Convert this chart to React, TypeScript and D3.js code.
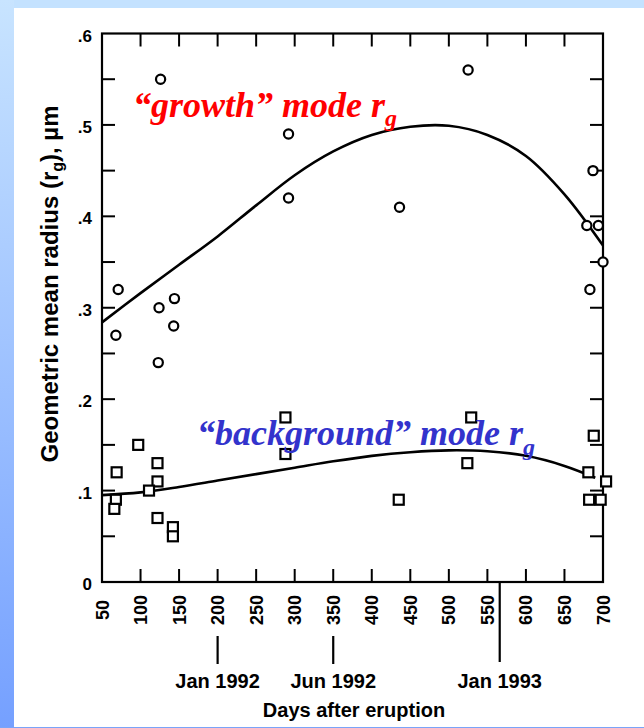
import React from "react";
import * as d3 from "d3";

// Observation days and geometric mean radii (µm)
const growthDays = [71, 68, 124, 144, 143, 123, 126, 292, 292, 436, 525, 687, 679, 694, 700, 683];
const growthRadius = [0.32, 0.27, 0.3, 0.31, 0.28, 0.24, 0.55, 0.49, 0.42, 0.41, 0.56, 0.45, 0.39, 0.39, 0.35, 0.32];

const backgroundDays = [69, 68, 66, 97, 122, 122, 111, 122, 142, 142, 288, 288, 435, 529, 524, 688, 681, 704, 682, 697];
const backgroundRadius = [0.12, 0.09, 0.08, 0.15, 0.13, 0.11, 0.1, 0.07, 0.06, 0.05, 0.18, 0.14, 0.09, 0.18, 0.13, 0.16, 0.12, 0.11, 0.09, 0.09];

// Fitted trend curves
const growthFitDays = [50, 100, 150, 200, 250, 300, 350, 400, 450, 500, 550, 600, 650, 700];
const growthFit = [0.284, 0.316, 0.347, 0.378, 0.412, 0.445, 0.471, 0.489, 0.498, 0.499, 0.489, 0.466, 0.424, 0.368];

const backgroundFitDays = [50, 100, 150, 200, 250, 300, 350, 400, 450, 500, 550, 600, 650, 690];
const backgroundFit = [0.095, 0.098, 0.104, 0.111, 0.118, 0.125, 0.132, 0.138, 0.142, 0.144, 0.143, 0.138, 0.127, 0.114];

// Axis ticks
const xTicks = [50, 100, 150, 200, 250, 300, 350, 400, 450, 500, 550, 600, 650, 700];
const yTicks = [0, 0.1, 0.2, 0.3, 0.4, 0.5, 0.6];
const yTickLabels = ["0", ".1", ".2", ".3", ".4", ".5", ".6"];
const yMinorTicks = [0.05, 0.15, 0.25, 0.35, 0.45, 0.55];

// Calendar markers below the day axis
const dateDays = [200, 350, 566];
const dateLabels = ["Jan 1992", "Jun 1992", "Jan 1993"];

const W = 644;
const H = 728;
const sans = "'Liberation Sans', Arial, Helvetica, sans-serif";
const serif = "'Liberation Serif', 'Times New Roman', serif";

export default function App() {
  const x = d3.scaleLinear().domain([50, 700]).range([102, 603]);
  const y = d3.scaleLinear().domain([0, 0.6]).range([582, 33.5]);
  const [x0, x1] = x.range();
  const [yb, yt] = y.range();
  const tickLen = 13;

  const line = d3
    .line<[number, number]>()
    .x((d) => x(d[0]))
    .y((d) => y(d[1]))
    .curve(d3.curveCatmullRom.alpha(0.5));

  const growthPath = line(growthFitDays.map((d, i) => [d, growthFit[i]]) as [number, number][]) || "";
  const backgroundPath = line(backgroundFitDays.map((d, i) => [d, backgroundFit[i]]) as [number, number][]) || "";

  const allY = [...yTicks, ...yMinorTicks];
  const stroke = "#000";

  return (
    <svg
      width={W}
      height={H}
      style={{ position: "fixed", left: 0, top: 0, background: "#fff" }}
    >
      <defs>
        <linearGradient id="sideBand" x1="0" y1="0" x2="0" y2="1">
          <stop offset="0%" stopColor="#c8e4ff" />
          <stop offset="100%" stopColor="#75a0ff" />
        </linearGradient>
      </defs>
      <rect x={0} y={0} width={W} height={H} fill="#fff" />
      <rect x={0} y={0} width={W} height={8} fill="#c4e2ff" />
      <rect x={0} y={0} width={14} height={H} fill="url(#sideBand)" />
      <rect x={0} y={727} width={W} height={1} fill="#7aa4f8" />

      {/* frame */}
      <rect x={x0} y={yt} width={x1 - x0} height={yb - yt} fill="none" stroke={stroke} strokeWidth={2.2} />

      {/* ticks on top and bottom */}
      {xTicks.slice(1, -1).map((t) => (
        <g key={"xt" + t}>
          <line x1={x(t)} x2={x(t)} y1={yb} y2={yb - tickLen} stroke={stroke} strokeWidth={2} />
          <line x1={x(t)} x2={x(t)} y1={yt} y2={yt + tickLen} stroke={stroke} strokeWidth={2} />
        </g>
      ))}
      {/* ticks on left and right */}
      {allY
        .filter((v) => v > 0 && v < 0.6)
        .map((v) => (
          <g key={"yt" + v}>
            <line x1={x0} x2={x0 + tickLen} y1={y(v)} y2={y(v)} stroke={stroke} strokeWidth={2} />
            <line x1={x1} x2={x1 - tickLen} y1={y(v)} y2={y(v)} stroke={stroke} strokeWidth={2} />
          </g>
        ))}

      {/* y tick labels */}
      {yTicks.map((v, i) => (
        <text
          key={"yl" + v}
          x={92}
          y={y(v) + 8}
          textAnchor="end"
          fontFamily={sans}
          fontWeight="bold"
          fontSize={17}
        >
          {yTickLabels[i]}
        </text>
      ))}

      {/* x tick labels, rotated */}
      {xTicks.map((t) => (
        <text
          key={"xl" + t}
          transform={`translate(${x(t) + 6.5},610) rotate(-90)`}
          textAnchor="middle"
          fontFamily={sans}
          fontWeight="bold"
          fontSize={18}
        >
          {t}
        </text>
      ))}

      {/* calendar markers */}
      {dateDays.map((d, i) => (
        <g key={"dm" + d}>
          <line
            x1={x(d)}
            x2={x(d)}
            y1={i === 2 ? yb : 636}
            y2={i === 2 ? 662 : 664}
            stroke={stroke}
            strokeWidth={2.2}
          />
          <text
            x={x(d)}
            y={688}
            textAnchor="middle"
            fontFamily={sans}
            fontWeight="bold"
            fontSize={20}
          >
            {dateLabels[i]}
          </text>
        </g>
      ))}

      {/* axis titles */}
      <text x={354} y={717} textAnchor="middle" fontFamily={sans} fontWeight="bold" fontSize={20}>
        Days after eruption
      </text>
      <text
        transform="translate(58,284) rotate(-90)"
        textAnchor="middle"
        fontFamily={sans}
        fontWeight="bold"
        fontSize={24}
      >
        Geometric mean radius (r
        <tspan fontSize={16} dy={5}>g</tspan>
        <tspan dy={-5}>), µm</tspan>
      </text>

      {/* trend curves */}
      <path d={growthPath} fill="none" stroke={stroke} strokeWidth={2.6} />
      <path d={backgroundPath} fill="none" stroke={stroke} strokeWidth={2.6} />

      {/* observations */}
      {growthDays.map((d, i) => (
        <circle
          key={"c" + i}
          cx={x(d)}
          cy={y(growthRadius[i])}
          r={4.6}
          fill="#fff"
          stroke={stroke}
          strokeWidth={2.2}
        />
      ))}
      {backgroundDays.map((d, i) => (
        <rect
          key={"s" + i}
          x={x(d) - 5}
          y={y(backgroundRadius[i]) - 5}
          width={10}
          height={10}
          fill="#fff"
          stroke={stroke}
          strokeWidth={2.2}
        />
      ))}

      {/* mode annotations */}
      <text x={133} y={117} fontFamily={serif} fontWeight="bold" fontStyle="italic" fontSize={36} fill="#ff0000">
        {"\u201Cgrowth\u201D mode r"}
        <tspan fontSize={24} dy={9}>g</tspan>
      </text>
      <text x={197} y={445} fontFamily={serif} fontWeight="bold" fontStyle="italic" fontSize={36} fill="#3333cc">
        {"\u201Cbackground\u201D mode r"}
        <tspan fontSize={24} dy={10}>g</tspan>
      </text>
    </svg>
  );
}
